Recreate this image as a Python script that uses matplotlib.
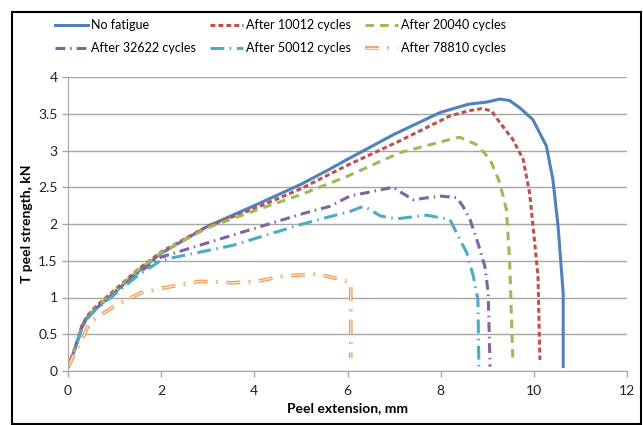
import matplotlib
matplotlib.use("Agg")
import matplotlib.pyplot as plt
import matplotlib.patheffects as pe
from matplotlib.patches import Rectangle

plt.rcParams['font.family'] = ['Lato', 'DejaVu Sans']

# readings from the reference (peel extension mm, T peel strength kN)
x_nofat = [0, 0.15, 0.3, 0.4, 0.6, 1.0, 1.5, 2.0, 3.0, 4.0, 5.0, 5.6, 6.0, 7.0, 8.0, 8.6, 9.0, 9.27, 9.48, 9.7, 9.98, 10.27, 10.41, 10.52, 10.63, 10.63]
y_nofat = [0.05, 0.3, 0.6, 0.72, 0.85, 1.07, 1.35, 1.6, 1.97, 2.25, 2.54, 2.74, 2.88, 3.22, 3.52, 3.63, 3.66, 3.70, 3.68, 3.58, 3.42, 3.06, 2.6, 1.97, 1.06, 0.06]

x_10012 = [0, 0.15, 0.3, 0.4, 0.6, 1.0, 1.5, 2.0, 3.0, 4.0, 5.0, 6.0, 7.12, 8.2, 8.6, 8.88, 9.09, 9.27, 9.55, 9.77, 9.91, 10.02, 10.09, 10.13]
y_10012 = [0.05, 0.32, 0.62, 0.74, 0.88, 1.1, 1.38, 1.62, 1.97, 2.21, 2.48, 2.8, 3.13, 3.47, 3.54, 3.57, 3.54, 3.38, 3.15, 2.88, 2.42, 1.74, 1.28, 0.15]

x_20040 = [0, 0.15, 0.3, 0.4, 0.6, 1.0, 1.5, 2.0, 3.0, 4.0, 5.0, 6.0, 7.12, 8.2, 8.41, 8.77, 9.06, 9.27, 9.41, 9.48, 9.55]
y_20040 = [0.05, 0.3, 0.6, 0.72, 0.86, 1.08, 1.37, 1.61, 1.95, 2.18, 2.40, 2.65, 2.97, 3.15, 3.18, 3.08, 2.88, 2.56, 2.2, 1.51, 0.15]

x_32622 = [0, 0.15, 0.3, 0.4, 0.6, 1.0, 1.5, 2.0, 3.54, 4.98, 5.62, 6.05, 6.98, 7.05, 7.41, 7.98, 8.34, 8.48, 8.63, 8.8, 8.95, 9.02, 9.06]
y_32622 = [0.05, 0.3, 0.6, 0.72, 0.85, 1.06, 1.33, 1.55, 1.85, 2.13, 2.24, 2.38, 2.50, 2.47, 2.33, 2.38, 2.36, 2.24, 2.06, 1.74, 1.42, 1.06, 0.06]

x_50012 = [0, 0.15, 0.3, 0.4, 0.6, 1.0, 1.5, 2.01, 3.54, 4.98, 5.62, 6.05, 6.34, 6.48, 6.7, 7.05, 7.7, 8.2, 8.41, 8.56, 8.7, 8.8, 8.82]
y_50012 = [0.05, 0.3, 0.58, 0.7, 0.84, 1.04, 1.3, 1.51, 1.71, 1.99, 2.1, 2.17, 2.24, 2.2, 2.11, 2.07, 2.12, 2.06, 1.79, 1.61, 1.29, 0.97, 0.06]

x_78810 = [0, 0.15, 0.33, 0.47, 0.65, 1.04, 1.55, 2.05, 2.83, 3.54, 4.05, 4.62, 5.34, 5.69, 5.9, 6.07, 6.07]
y_78810 = [0.05, 0.25, 0.47, 0.67, 0.74, 0.9, 1.06, 1.13, 1.22, 1.2, 1.22, 1.29, 1.32, 1.27, 1.24, 1.2, 0.18]

fig = plt.figure(figsize=(6.43, 4.25), dpi=100)
ax = fig.add_axes([68 / 643, 1 - 371 / 425, 559 / 643, 294 / 425])

lw = 2.2
l1, = ax.plot(x_nofat, y_nofat, color='#4F81BD', lw=lw, label='No fatigue')
l2, = ax.plot(x_10012, y_10012, color='#C0504D', lw=lw, dashes=(1.6, 1.0), label='After 10012 cycles')
l3, = ax.plot(x_20040, y_20040, color='#9BBB59', lw=lw, dashes=(2.8, 2.0), label='After 20040 cycles')
l4, = ax.plot(x_32622, y_32622, color='#8064A2', lw=lw, dashes=(3.2, 1.6, 0.5, 1.6), label='After 32622 cycles')
l5, = ax.plot(x_50012, y_50012, color='#4BACC6', lw=lw, dashes=(4.5, 1.8, 0.5, 1.8), label='After 50012 cycles')
l6, = ax.plot(x_78810, y_78810, color='#FDE3D0', lw=1.0, dashes=(10, 6, 1.5, 6), label='After 78810 cycles',
              path_effects=[pe.Stroke(linewidth=2.6, foreground='#F79646'), pe.Normal()])

ax.set_xlim(0, 12)
ax.set_ylim(0, 4)
ax.set_xticks(range(0, 13, 2))
ax.set_yticks([0, 0.5, 1, 1.5, 2, 2.5, 3, 3.5, 4])
ax.set_yticklabels(['0', '0.5', '1', '1.5', '2', '2.5', '3', '3.5', '4'])
ax.grid(axis='y', color='#A6A6A6', lw=1)
ax.set_axisbelow(True)
for s in ['top', 'right']:
    ax.spines[s].set_visible(False)
for s in ['left', 'bottom']:
    ax.spines[s].set_color('#A6A6A6')
ax.tick_params(colors='#A6A6A6', labelcolor='#222222', labelsize=10, length=4, width=1)
ax.tick_params(axis='x', pad=6)
ax.set_xlabel('Peel extension, mm', fontsize=10, fontweight='bold', labelpad=4)
ax.set_ylabel('T peel strength, kN', fontsize=10, fontweight='bold', labelpad=4)

handles = [l1, l4, l2, l5, l3, l6]
fig.legend(handles, [h.get_label() for h in handles], ncol=3, loc='upper left',
           bbox_to_anchor=(44 / 643, 1 - 8 / 425), frameon=False, fontsize=9,
           handlelength=2.6, handletextpad=0.25, columnspacing=1.15, labelspacing=0.9)

fig.add_artist(Rectangle((12 / 643, 1 / 425), 629 / 643, 412 / 425, transform=fig.transFigure,
                         fill=False, edgecolor='black', lw=1.5))

fig.savefig('out.png', dpi=100)
